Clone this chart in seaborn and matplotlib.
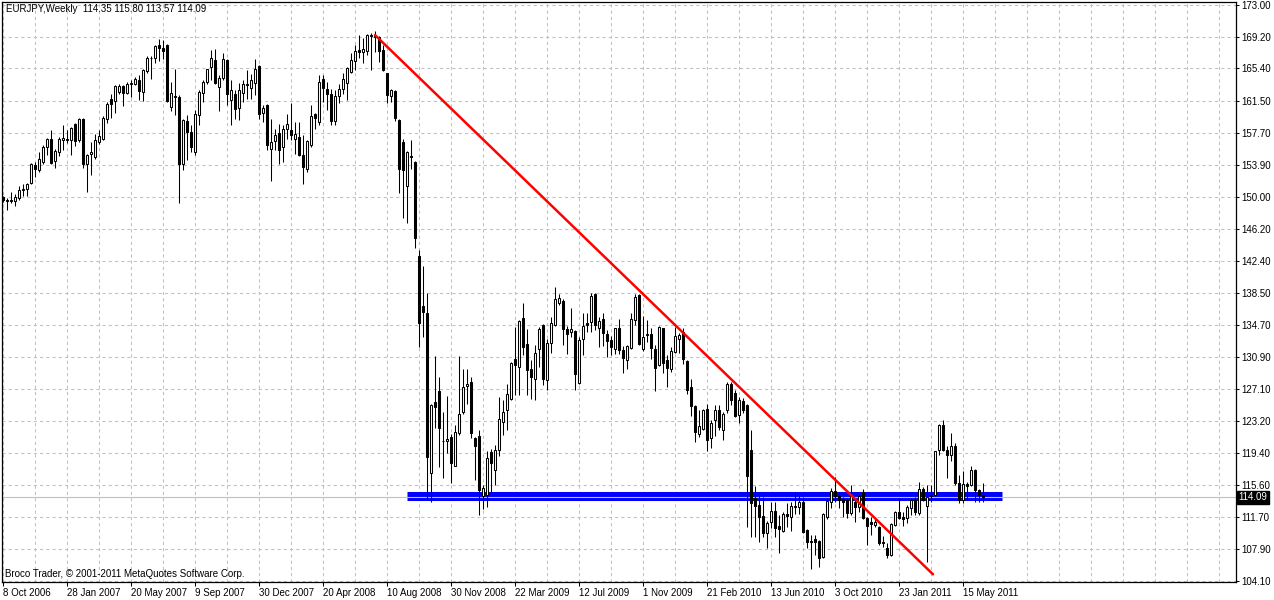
import numpy as np
import pandas as pd
import matplotlib
matplotlib.use("Agg")
import matplotlib.pyplot as plt
import matplotlib.transforms as mtransforms
import seaborn as sns

CHART_TITLE = "EURJPY,Weekly  114.35 115.80 113.57 114.09"
COPYRIGHT = "Broco Trader, \u00a9 2001-2011 MetaQuotes Software Corp."

# weekly OHLC, 8 Oct 2006 .. 19 Jun 2011
opens = [
    150.0, 149.7, 149.6, 149.5, 149.9, 150.9, 151.0, 151.7, 153.9, 153.3,
    154.2, 156.0, 157.0, 154.3, 155.4, 156.8, 157.0, 156.8, 158.8, 156.8,
    159.4, 154.0, 155.2, 154.8, 156.6, 157.0, 159.4, 161.8, 161.5, 162.6,
    163.3, 162.5, 163.6, 163.5, 164.0, 162.6, 165.1, 166.6, 166.6, 168.2,
    167.8, 168.2, 160.8, 162.1, 162.0, 154.0, 159.1, 157.8, 155.4, 159.8,
    162.5, 163.8, 165.6, 166.4, 163.2, 164.3, 166.4, 161.6, 162.4, 160.7,
    162.5, 163.5, 163.1, 163.7, 165.7, 160.1, 161.0, 155.8, 156.7, 157.7,
    156.0, 158.2, 158.0, 157.0, 157.2, 155.0, 153.4, 156.2, 159.9, 159.0,
    164.1, 163.0, 162.4, 159.1, 162.1, 162.9, 163.7, 165.0, 166.3, 167.6,
    167.4, 167.5, 169.4, 169.3, 169.2, 167.6, 164.8, 162.1, 162.7, 159.2,
    156.6, 151.3, 154.9, 154.2, 143.0, 137.0, 136.1, 117.0, 125.5, 126.8,
    120.9, 120.8, 121.3, 117.9, 121.8, 124.3, 127.4, 127.9, 121.2, 121.4,
    114.3, 114.4, 119.5, 117.4, 119.8, 123.1, 124.5, 125.9, 130.6, 129.7,
    135.5, 132.4, 129.4, 128.2, 131.8, 134.7, 128.1, 132.6, 134.7, 137.4,
    137.6, 134.2, 133.9, 134.0, 127.8, 133.0, 135.0, 135.1, 138.4, 134.4,
    135.4, 133.7, 132.9, 131.8, 134.3, 131.7, 130.5, 132.0, 135.3, 138.3,
    131.9, 133.5, 133.6, 131.9, 129.9, 134.3, 130.5, 129.4, 131.5, 133.0,
    133.9, 130.4, 127.3, 125.0, 121.7, 122.3, 124.7, 121.2, 123.3, 124.6,
    122.2, 124.5, 127.7, 126.6, 124.0, 125.6, 125.2, 119.8, 114.0, 113.2,
    111.9, 109.8, 111.2, 112.5, 110.7, 110.1, 112.1, 111.7, 113.1, 112.9,
    113.5, 110.2, 108.8, 109.1, 108.9, 107.0, 111.8, 113.6, 114.9, 114.3,
    113.9, 113.8, 112.2, 113.6, 113.0, 114.8, 111.6, 111.1, 110.8, 110.6,
    108.8, 108.1, 107.2, 110.8, 112.4, 111.7, 111.6, 112.8, 113.8, 112.2,
    115.1, 113.1, 114.3, 114.4, 119.8, 122.8, 119.8, 119.2, 120.2, 115.8,
    113.8, 115.7, 115.6, 117.4, 115.0, 114.35,
]
highs = [
    150.2, 149.9, 150.6, 150.4, 151.4, 151.6, 151.7, 154.1, 154.2, 155.4,
    156.3, 157.1, 158.0, 155.8, 157.2, 158.6, 158.0, 158.4, 158.9, 159.5,
    159.5, 155.2, 156.6, 157.6, 158.0, 159.7, 161.4, 162.3, 163.4, 163.5,
    163.4, 163.8, 164.0, 164.4, 164.6, 165.3, 166.9, 166.9, 168.2, 168.9,
    168.8, 168.3, 163.8, 165.3, 162.2, 159.3, 159.8, 158.6, 160.4, 162.8,
    164.0, 165.3, 167.6, 167.7, 164.6, 167.2, 166.5, 164.0, 162.8, 163.7,
    164.0, 165.2, 164.7, 166.5, 165.8, 161.0, 161.1, 159.4, 158.2, 158.7,
    158.6, 160.0, 161.3, 159.0, 159.0, 157.4, 156.8, 161.0, 160.1, 164.6,
    164.6, 163.8, 162.9, 162.8, 163.6, 164.8, 165.6, 167.2, 168.2, 169.4,
    169.1, 169.5, 169.6, 169.9, 169.3, 168.2, 164.9, 163.0, 162.8, 159.3,
    157.0, 155.5, 156.8, 154.3, 143.7, 141.8, 138.6, 125.3, 131.0, 128.5,
    124.3, 126.2, 121.7, 122.7, 131.0, 129.5, 129.5, 128.5, 121.3, 122.1,
    115.6, 119.6, 119.9, 120.4, 126.1, 125.7, 127.7, 130.3, 134.5, 135.3,
    137.3, 134.2, 130.5, 132.3, 134.5, 134.8, 133.1, 135.7, 139.3, 138.4,
    137.8, 134.6, 136.8, 134.1, 133.3, 136.2, 136.2, 138.6, 138.6, 135.7,
    136.2, 134.1, 133.4, 134.4, 135.4, 132.2, 132.3, 136.1, 138.4, 138.4,
    135.8, 135.3, 134.3, 132.3, 134.6, 134.4, 131.1, 132.1, 134.5, 133.8,
    134.3, 130.5, 128.3, 125.1, 124.6, 124.7, 125.3, 123.4, 125.2, 125.2,
    124.3, 127.9, 127.9, 126.9, 126.1, 126.0, 125.3, 122.2, 115.5, 114.3,
    114.2, 111.3, 113.5, 113.5, 112.0, 112.4, 113.4, 113.5, 114.8, 114.3,
    114.2, 110.3, 109.6, 109.6, 109.0, 112.2, 114.0, 115.2, 116.5, 114.7,
    114.2, 114.0, 115.6, 114.0, 114.4, 115.1, 111.7, 111.8, 111.5, 110.7,
    109.5, 108.6, 111.0, 112.5, 114.0, 112.4, 113.2, 114.0, 114.1, 116.0,
    115.3, 115.6, 115.6, 119.7, 122.9, 123.4, 120.2, 121.8, 120.6, 116.8,
    117.2, 116.0, 117.8, 117.5, 115.1, 115.80,
]
lows = [
    149.4, 148.5, 149.3, 148.9, 149.7, 150.1, 150.2, 151.6, 152.4, 153.0,
    154.0, 155.0, 154.0, 153.5, 154.9, 155.6, 156.5, 155.0, 156.1, 156.6,
    153.5, 150.6, 152.6, 154.6, 156.4, 156.8, 158.9, 159.5, 160.1, 162.3,
    160.9, 162.4, 162.0, 163.4, 161.6, 161.5, 164.8, 164.2, 166.1, 166.3,
    166.5, 161.4, 160.3, 159.8, 149.3, 153.2, 154.4, 155.4, 155.0, 158.6,
    161.4, 163.5, 164.0, 163.6, 160.3, 164.0, 161.0, 158.6, 159.4, 159.2,
    161.4, 161.7, 161.8, 162.2, 159.4, 159.0, 155.6, 152.0, 155.6, 154.0,
    154.2, 157.0, 156.8, 155.2, 154.9, 151.6, 153.0, 156.0, 158.2, 158.6,
    161.4, 160.4, 158.6, 158.6, 161.3, 162.4, 161.6, 164.8, 165.2, 166.7,
    166.0, 167.0, 165.2, 167.4, 166.2, 165.1, 161.3, 161.4, 159.1, 150.5,
    147.5, 146.9, 153.4, 143.9, 132.1, 133.3, 113.8, 113.6, 122.4, 117.7,
    116.4, 119.4, 115.8, 117.8, 121.6, 124.1, 125.3, 121.2, 116.2, 112.0,
    112.7, 113.0, 114.8, 115.6, 119.0, 121.6, 122.1, 125.8, 126.3, 126.3,
    131.1, 126.3, 125.9, 125.7, 129.7, 127.5, 126.9, 131.4, 134.6, 137.1,
    132.3, 131.3, 133.3, 127.0, 127.7, 131.1, 133.9, 133.9, 134.1, 132.1,
    132.2, 130.9, 131.1, 131.2, 131.2, 129.0, 129.4, 131.9, 134.7, 132.3,
    131.6, 132.7, 130.7, 126.8, 129.8, 129.0, 127.3, 129.1, 131.4, 131.4,
    130.1, 126.5, 123.8, 120.7, 121.3, 122.1, 119.6, 120.0, 121.4, 122.2,
    121.0, 124.2, 125.2, 123.7, 123.0, 124.2, 110.5, 109.4, 109.4, 108.8,
    109.4, 108.1, 110.4, 109.4, 107.4, 110.0, 110.6, 110.1, 112.1, 112.1,
    109.9, 108.0, 105.5, 107.2, 105.8, 106.9, 111.5, 112.8, 113.6, 112.8,
    111.8, 111.6, 112.0, 111.1, 112.4, 111.5, 108.4, 109.6, 110.5, 108.4,
    108.2, 106.8, 107.1, 110.7, 111.5, 110.7, 111.0, 112.0, 112.0, 112.0,
    113.7, 106.4, 113.6, 114.3, 119.2, 119.7, 116.4, 118.4, 115.6, 113.4,
    113.4, 113.8, 115.5, 113.6, 113.6, 113.57,
]
closes = [
    149.7, 149.5, 149.7, 150.0, 150.9, 151.0, 151.6, 154.0, 153.4, 154.6,
    156.0, 157.0, 154.1, 155.5, 157.0, 157.1, 156.9, 158.3, 156.7, 159.3,
    154.0, 155.1, 155.4, 156.8, 157.3, 159.5, 161.2, 161.2, 163.3, 163.3,
    162.5, 163.5, 163.7, 164.1, 162.7, 165.2, 166.7, 166.7, 168.1, 167.9,
    167.5, 161.5, 162.5, 162.0, 154.0, 159.2, 157.8, 156.0, 160.0, 162.6,
    163.8, 165.3, 166.7, 163.7, 164.3, 166.5, 162.3, 162.8, 160.6, 162.8,
    163.6, 163.4, 164.0, 165.3, 160.0, 160.7, 156.2, 156.6, 157.5, 155.6,
    158.2, 158.8, 157.4, 157.6, 155.1, 153.6, 156.7, 159.7, 159.5, 163.8,
    163.1, 162.4, 159.1, 162.1, 162.9, 164.1, 165.5, 166.4, 167.5, 167.4,
    167.7, 169.4, 169.3, 169.2, 167.5, 165.2, 162.2, 162.8, 159.5, 153.4,
    153.2, 155.4, 154.8, 145.1, 134.9, 136.3, 118.9, 125.2, 124.9, 122.4,
    120.8, 121.1, 118.2, 121.9, 124.1, 127.3, 127.7, 121.8, 120.3, 115.0,
    115.2, 118.8, 118.2, 119.8, 123.5, 124.3, 126.5, 130.2, 129.9, 135.2,
    132.1, 129.3, 128.5, 131.4, 134.2, 128.3, 132.6, 134.9, 137.8, 137.9,
    134.2, 133.7, 134.2, 128.9, 132.9, 134.6, 134.7, 138.2, 134.7, 135.2,
    133.8, 132.8, 132.1, 134.3, 131.7, 130.8, 132.2, 135.4, 138.1, 132.5,
    133.3, 133.6, 132.0, 129.6, 134.5, 130.2, 129.6, 131.6, 133.4, 133.5,
    130.6, 126.9, 125.0, 121.9, 122.6, 124.5, 121.0, 123.0, 124.6, 122.5,
    124.1, 127.7, 125.8, 123.8, 125.8, 124.6, 116.7, 113.4, 113.1, 111.8,
    109.9, 111.0, 112.5, 110.4, 110.3, 112.1, 111.9, 113.1, 113.0, 113.6,
    110.0, 108.8, 108.9, 108.8, 106.8, 112.1, 113.7, 114.9, 114.3, 113.8,
    113.6, 112.2, 114.4, 113.0, 114.3, 111.6, 110.7, 110.9, 111.1, 108.6,
    108.6, 107.2, 110.9, 112.4, 111.6, 111.5, 113.0, 113.8, 112.3, 115.1,
    113.8, 114.2, 114.4, 119.6, 122.8, 119.8, 119.2, 120.2, 115.8, 113.8,
    115.7, 115.5, 117.4, 115.0, 114.4, 114.09,
]

date_labels = [
    "8 Oct 2006", "28 Jan 2007", "20 May 2007", "9 Sep 2007",
    "30 Dec 2007", "20 Apr 2008", "10 Aug 2008", "30 Nov 2008",
    "22 Mar 2009", "12 Jul 2009", "1 Nov 2009", "21 Feb 2010",
    "13 Jun 2010", "3 Oct 2010", "23 Jan 2011", "15 May 2011",
]
price_ticks = [
    173.00, 169.20, 165.40, 161.50, 157.70, 153.90, 150.00, 146.20, 142.40,
    138.50, 134.70, 130.90, 127.10, 123.20, 119.40, 115.60, 111.70, 107.90,
    104.10,
]

# hand-drawn objects on the chart (week index, price)
trend_weeks = [93, 232.5]
trend_prices = [169.4, 104.9]
support_weeks = [101, 249.8]
support_prices = [114.25, 114.25]

W, H = 1274, 600
LEFT, RIGHT, TOP, BOTTOM = 2, 1236, 2, 582


def draw_candles(ax, df):
    ax.vlines(df["week"], df["low"], df["high"], color="black",
              linewidth=0.75, zorder=3)
    rising = df["close"] >= df["open"]
    body_low = df[["open", "close"]].min(axis=1)
    body_height = (df["close"] - df["open"]).abs()
    ax.bar(df["week"], body_height, bottom=body_low, width=0.5,
           color=np.where(rising, "white", "black"), edgecolor="black",
           linewidth=0.75, zorder=4)


def main():
    sns.set_theme(style="white")
    plt.rcParams["font.family"] = ["Liberation Sans", "DejaVu Sans"]

    df = pd.DataFrame({"open": opens, "high": highs, "low": lows, "close": closes})
    df["week"] = np.arange(len(df))

    fig = plt.figure(figsize=(W / 100, H / 100), dpi=100, facecolor="white")
    ax = fig.add_axes([LEFT / W, (H - BOTTOM) / H, (RIGHT - LEFT) / W, (BOTTOM - TOP) / H])
    ax.set_facecolor("white")

    # support band and trend line
    sns.lineplot(x=support_weeks, y=support_prices, ax=ax, color="#0000ff",
                 linewidth=6.5, solid_capstyle="butt", estimator=None,
                 sort=False, legend=False, zorder=1)
    ax.axhline(closes[-1], color="#c0c0c0", linewidth=0.8, zorder=2)
    draw_candles(ax, df)
    sns.lineplot(x=trend_weeks, y=trend_prices, ax=ax, color="#ff0000",
                 linewidth=1.8, estimator=None, sort=False, legend=False,
                 zorder=5)

    ax.set_xlim(-0.25, 308.25)
    ax.set_ylim(103.98, 173.35)

    major_weeks = list(range(0, 16 * len(date_labels), 16))
    ax.set_xticks(major_weeks)
    ax.set_xticklabels(date_labels, ha="left")
    ax.set_xticks([w for w in range(8, 309, 8) if w not in major_weeks], minor=True)
    ax.yaxis.tick_right()
    ax.set_yticks(price_ticks)
    ax.set_yticklabels([f"{p:.2f}" for p in price_ticks])

    ax.tick_params(axis="x", which="major", length=3, width=0.75, pad=1,
                   labelsize=7, colors="black", direction="out", bottom=True)
    ax.tick_params(axis="x", which="minor", length=0)
    ax.tick_params(axis="y", which="major", length=2.5, width=0.75, pad=1.5,
                   labelsize=7, colors="black", direction="out",
                   right=True, left=False)

    ax.grid(True, which="both", axis="x", color="#c0c0c0",
            linestyle=(0, (3, 3)), linewidth=0.75, zorder=0)
    ax.grid(True, which="major", axis="y", color="#c0c0c0",
            linestyle=(0, (3, 3)), linewidth=0.75, zorder=0)
    ax.set_axisbelow(True)
    for spine in ax.spines.values():
        spine.set_color("black")
        spine.set_linewidth(0.9)
    ax.set_xlabel("")
    ax.set_ylabel("")

    ax.text(0.003, 0.988, CHART_TITLE, transform=ax.transAxes, ha="left",
            va="center", fontsize=7, color="black")
    ax.text(0.0025, 0.014, COPYRIGHT, transform=ax.transAxes, ha="left",
            va="center", fontsize=7, color="black")

    trans = mtransforms.blended_transform_factory(ax.transAxes, ax.transData)
    ax.text(1.0022, closes[-1], f"{closes[-1]:.2f}", transform=trans,
            ha="left", va="center", fontsize=7, color="white", clip_on=False,
            bbox=dict(boxstyle="square,pad=0.15", fc="black", ec="black"))

    fig.savefig("out.png", dpi=100, facecolor="white")
    plt.close(fig)


if __name__ == "__main__":
    main()
